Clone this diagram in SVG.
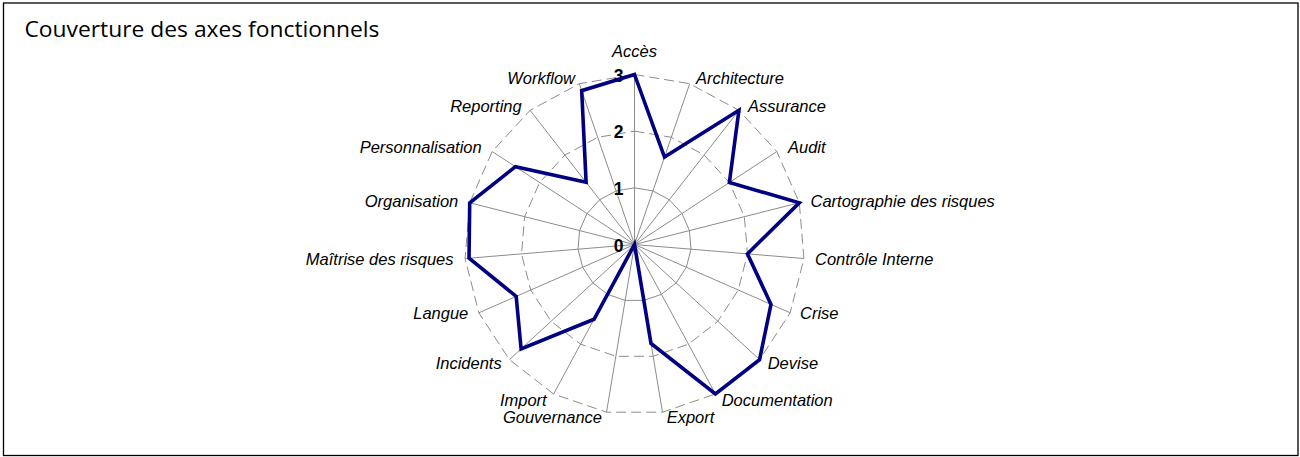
<svg xmlns="http://www.w3.org/2000/svg" width="1300" height="457" viewBox="0 0 1300 457">
<style>
.grid{fill:none;stroke:#8c8c8c;stroke-width:1}
.dash{stroke-dasharray:10,5}
.axis{stroke:#8c8c8c;stroke-width:1}
.lbl{font-family:"Liberation Sans",Arial,sans-serif;font-size:16.5px;font-style:italic;fill:#000}
.num{font-family:"Liberation Sans",Arial,sans-serif;font-size:17.5px;font-weight:bold;fill:#000;text-anchor:end}
.title{font-family:"Open Sans","Liberation Sans",sans-serif;font-size:21px;fill:#000}
.data{fill:none;stroke:#000080;stroke-width:3.6;stroke-linejoin:miter;stroke-miterlimit:10}
</style>
<rect x="0" y="0" width="1300" height="457" fill="#fff"/>
<rect id="frame" x="3.5" y="3" width="1294.5" height="452.5" fill="#fff" stroke="#000" stroke-width="1.3"/>
<text id="title" class="title" x="24.5" y="36.7" textLength="355" lengthAdjust="spacingAndGlyphs">Couverture des axes fonctionnels</text>

<g id="grid">
<polygon class="grid" points="634.5,187.83 652.9,190.9 669.31,199.78 681.94,213.51 689.43,230.59 690.97,249.18 686.39,267.26 676.19,282.88 661.47,294.34 643.83,300.39 625.17,300.39 607.53,294.34 592.81,282.88 582.61,267.26 578.03,249.18 579.57,230.59 587.06,213.51 599.69,199.78 616.1,190.9"/>
<polygon class="grid dash" points="634.5,131.17 671.3,137.31 704.11,155.06 729.38,182.51 744.37,216.68 747.45,253.86 738.29,290.03 717.88,321.26 688.44,344.17 653.15,356.29 615.85,356.29 580.56,344.17 551.12,321.26 530.71,290.03 521.55,253.86 524.63,216.68 539.62,182.51 564.89,155.06 597.7,137.31"/>
<polygon class="grid dash" points="634.5,74.5 689.7,83.71 738.92,110.35 776.82,151.52 799.3,202.77 803.92,258.54 790.18,312.79 759.57,359.64 715.41,394.01 662.48,412.18 606.52,412.18 553.59,394.01 509.43,359.64 478.82,312.79 465.08,258.54 469.7,202.77 492.18,151.52 530.08,110.35 579.3,83.71"/>
</g>

<g id="axes">
<line class="axis" x1="634.5" y1="244.5" x2="634.5" y2="74.5"/>
<line class="axis" x1="634.5" y1="244.5" x2="689.7" y2="83.71"/>
<line class="axis" x1="634.5" y1="244.5" x2="738.92" y2="110.35"/>
<line class="axis" x1="634.5" y1="244.5" x2="776.82" y2="151.52"/>
<line class="axis" x1="634.5" y1="244.5" x2="799.3" y2="202.77"/>
<line class="axis" x1="634.5" y1="244.5" x2="803.92" y2="258.54"/>
<line class="axis" x1="634.5" y1="244.5" x2="790.18" y2="312.79"/>
<line class="axis" x1="634.5" y1="244.5" x2="759.57" y2="359.64"/>
<line class="axis" x1="634.5" y1="244.5" x2="715.41" y2="394.01"/>
<line class="axis" x1="634.5" y1="244.5" x2="662.48" y2="412.18"/>
<line class="axis" x1="634.5" y1="244.5" x2="606.52" y2="412.18"/>
<line class="axis" x1="634.5" y1="244.5" x2="553.59" y2="394.01"/>
<line class="axis" x1="634.5" y1="244.5" x2="509.43" y2="359.64"/>
<line class="axis" x1="634.5" y1="244.5" x2="478.82" y2="312.79"/>
<line class="axis" x1="634.5" y1="244.5" x2="465.08" y2="258.54"/>
<line class="axis" x1="634.5" y1="244.5" x2="469.7" y2="202.77"/>
<line class="axis" x1="634.5" y1="244.5" x2="492.18" y2="151.52"/>
<line class="axis" x1="634.5" y1="244.5" x2="530.08" y2="110.35"/>
<line class="axis" x1="634.5" y1="244.5" x2="579.3" y2="83.71"/>
</g>

<g id="scale">
<text class="num" x="623.5" y="251.7">0</text>
<text class="num" x="623.5" y="195">1</text>
<text class="num" x="623.5" y="138.3">2</text>
<text class="num" x="623.5" y="81.7">3</text>
</g>

<g id="connectors">
<polygon id="series" class="data" points="634.5,74.5 664.49,157.13 738.92,110.35 729.38,182.51 799.3,202.77 747.45,253.86 770.98,304.37 759.57,359.64 715.41,394.01 651.01,343.43 634.5,244.5 594.04,319.25 521.1,348.89 516.18,296.4 469.04,258.21 469.7,202.77 515.43,166.71 586.12,182.34 581.69,90.68"/>
</g>

<g id="labels">
<g id="n-acces"><text class="lbl" x="634.5" y="57" text-anchor="middle">Accès</text></g>
<g id="n-architecture"><text class="lbl" x="696" y="84">Architecture</text></g>
<g id="n-assurance"><text class="lbl" x="748" y="111.7">Assurance</text></g>
<g id="n-audit"><text class="lbl" x="788" y="152.7">Audit</text></g>
<g id="n-cartographie"><text class="lbl" x="810.5" y="206.7">Cartographie des risques</text></g>
<g id="n-controle"><text class="lbl" x="815" y="264.5">Contrôle Interne</text></g>
<g id="n-crise"><text class="lbl" x="800" y="319.3">Crise</text></g>
<g id="n-devise"><text class="lbl" x="767.7" y="369.3">Devise</text></g>
<g id="n-documentation"><text class="lbl" x="721.7" y="405.7">Documentation</text></g>
<g id="n-export"><text class="lbl" x="666.7" y="423.3">Export</text></g>
<g id="n-gouvernance"><text class="lbl" x="602" y="423.3" text-anchor="end">Gouvernance</text></g>
<g id="n-import"><text class="lbl" x="546.7" y="405.7" text-anchor="end">Import</text></g>
<g id="n-incidents"><text class="lbl" x="501.7" y="369.3" text-anchor="end">Incidents</text></g>
<g id="n-langue"><text class="lbl" x="468.3" y="319.3" text-anchor="end">Langue</text></g>
<g id="n-maitrise"><text class="lbl" x="453.5" y="264.5" text-anchor="end">Maîtrise des risques</text></g>
<g id="n-organisation"><text class="lbl" x="458.3" y="206.7" text-anchor="end">Organisation</text></g>
<g id="n-personnalisation"><text class="lbl" x="481.7" y="153" text-anchor="end">Personnalisation</text></g>
<g id="n-reporting"><text class="lbl" x="521.7" y="111.7" text-anchor="end">Reporting</text></g>
<g id="n-workflow"><text class="lbl" x="575" y="84" text-anchor="end">Workflow</text></g>
</g>
</svg>
